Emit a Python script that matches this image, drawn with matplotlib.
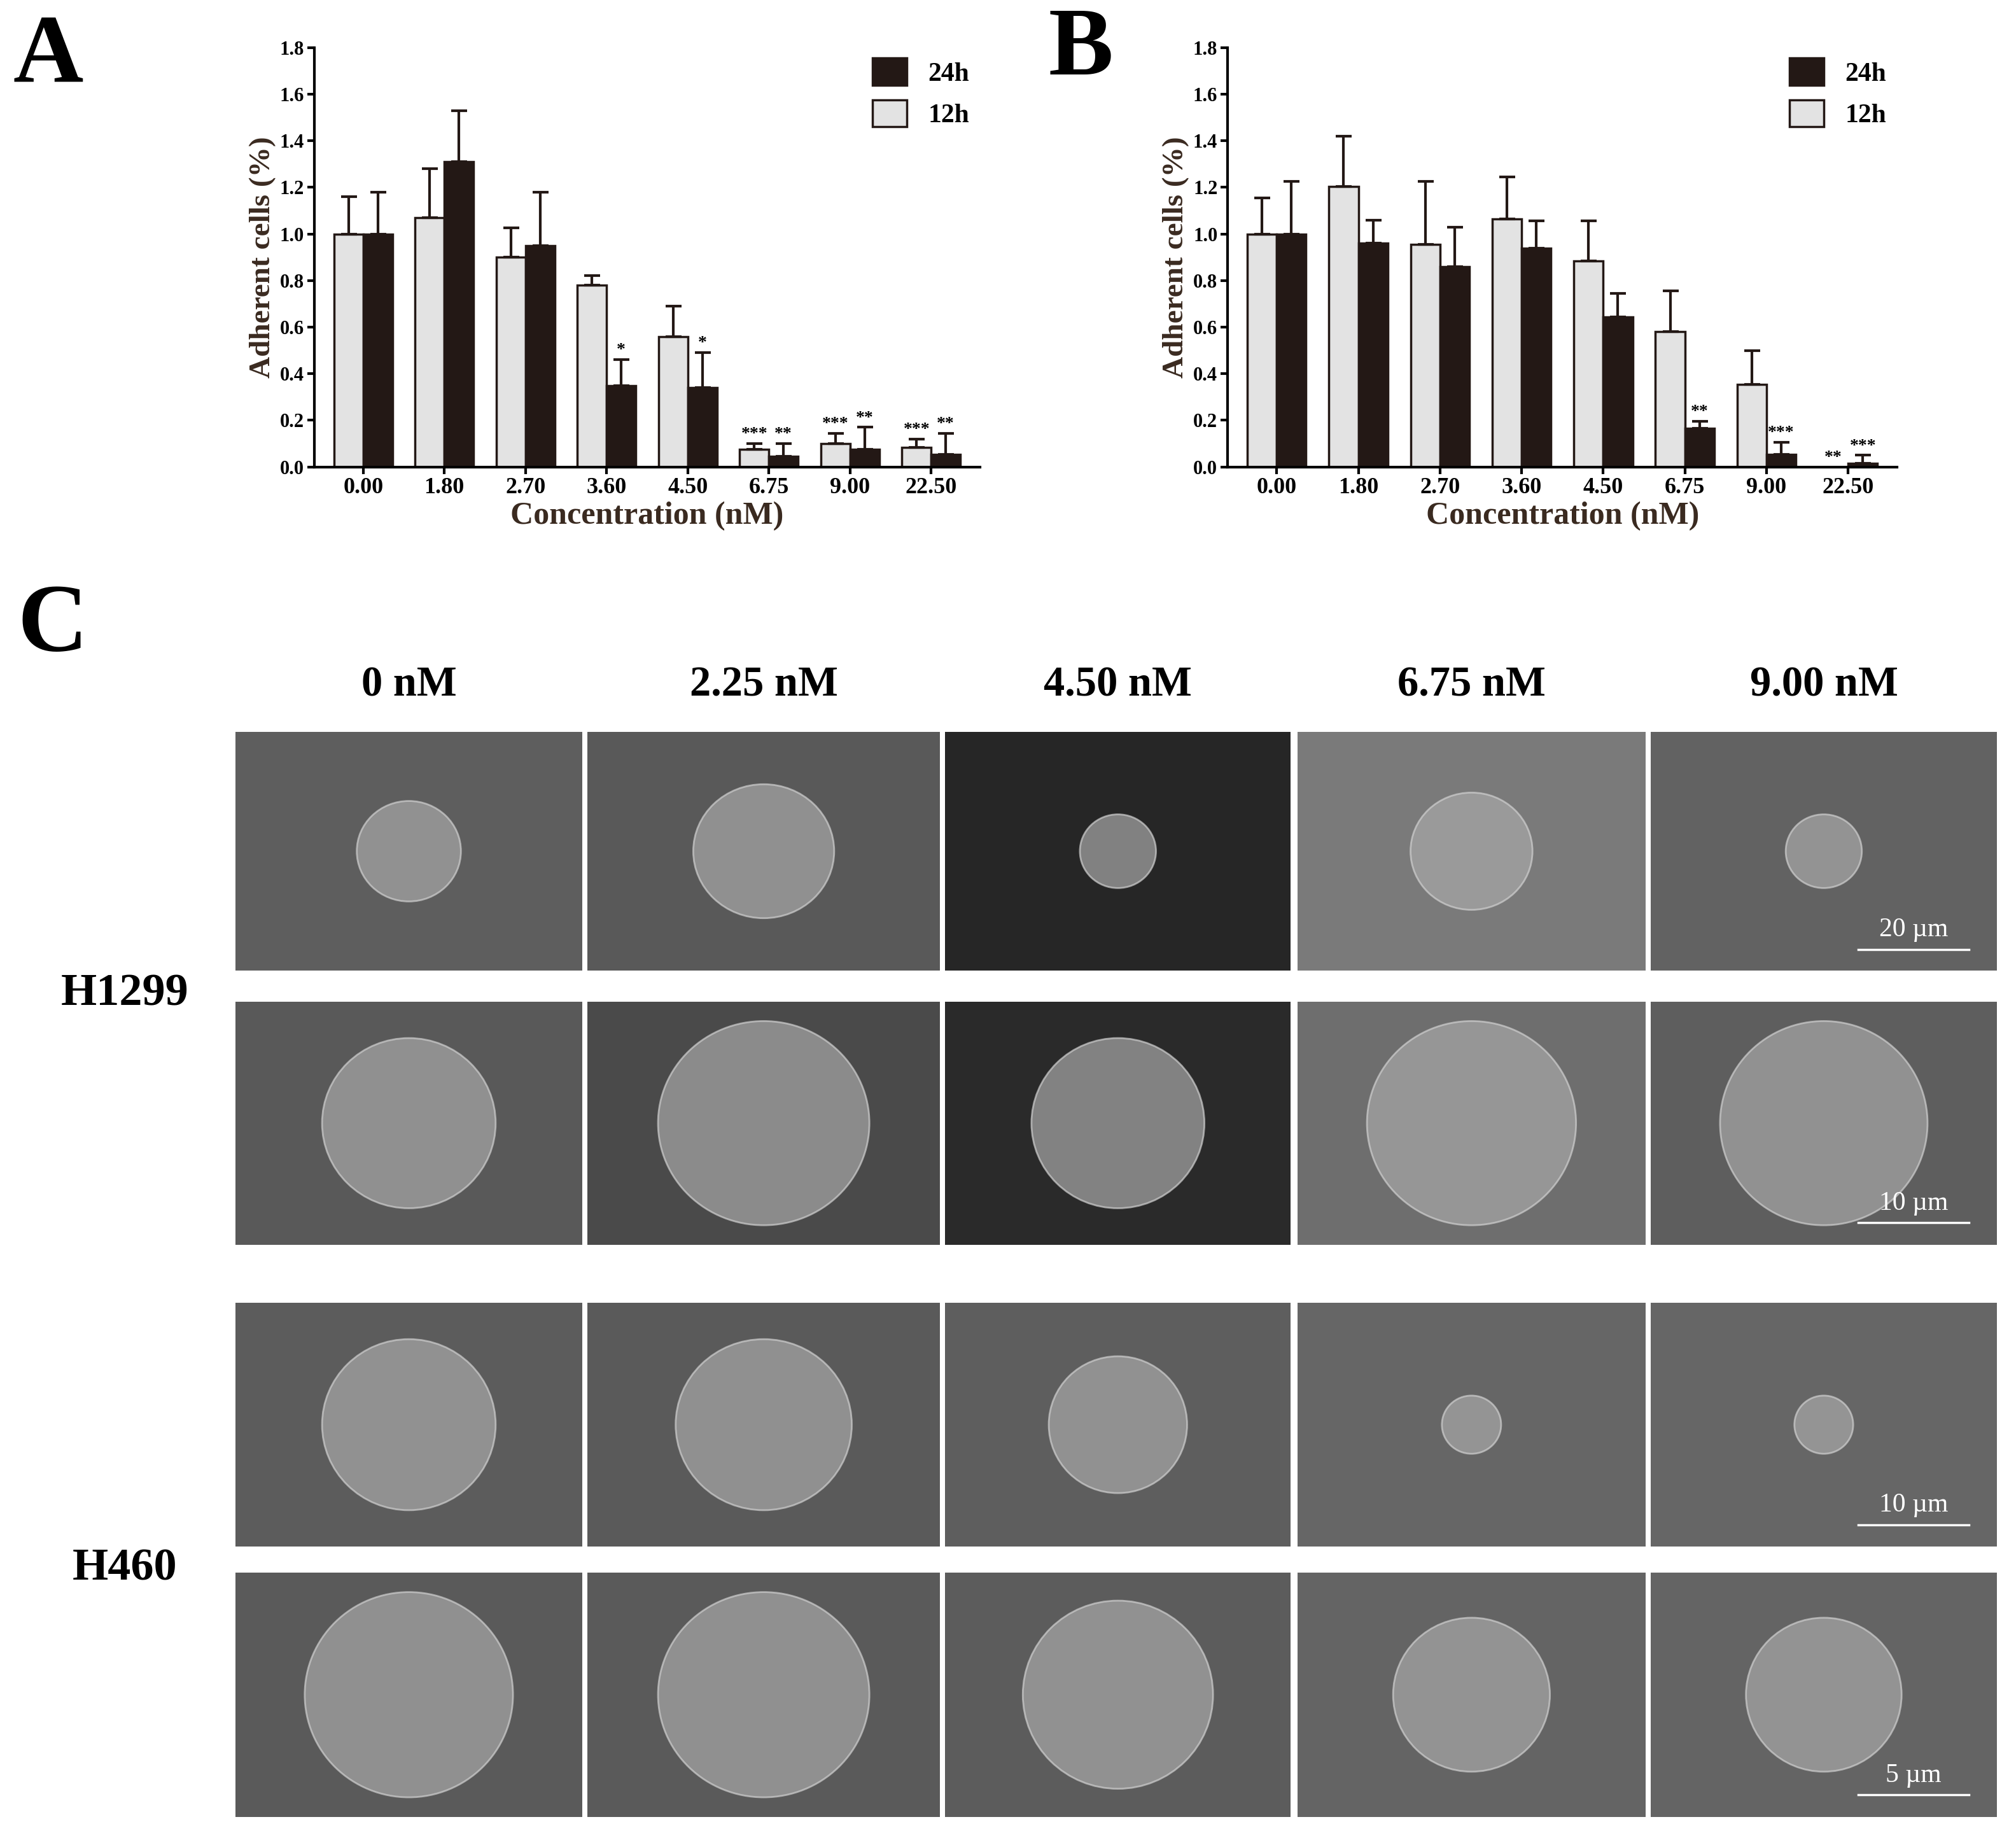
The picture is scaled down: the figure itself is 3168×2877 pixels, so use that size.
import numpy as np
import matplotlib
matplotlib.use('Agg')
from matplotlib import pyplot as plt
from matplotlib.patches import Ellipse

plt.rcParams['font.family'] = ['Liberation Serif', 'DejaVu Serif']
plt.rcParams['font.weight'] = 'bold'
plt.rcParams['axes.labelweight'] = 'bold'

conc = ['0.00', '1.80', '2.70', '3.60', '4.50', '6.75', '9.00', '22.50']

# panel A
a_12h = [1.00, 1.07, 0.90, 0.78, 0.56, 0.075, 0.10, 0.085]
a_12h_top = [1.16, 1.28, 1.025, 0.82, 0.69, 0.10, 0.145, 0.12]
a_24h = [1.00, 1.31, 0.95, 0.35, 0.34, 0.045, 0.075, 0.055]
a_24h_top = [1.18, 1.53, 1.18, 0.46, 0.49, 0.10, 0.17, 0.145]
a_12h_sig = ['', '', '', '', '', '***', '***', '***']
a_24h_sig = ['', '', '', '*', '*', '**', '**', '**']

# panel B
b_12h = [1.00, 1.205, 0.955, 1.065, 0.885, 0.58, 0.355, 0.0]
b_12h_top = [1.155, 1.42, 1.225, 1.245, 1.055, 0.755, 0.50, 0.0]
b_24h = [1.00, 0.96, 0.86, 0.94, 0.645, 0.165, 0.055, 0.015]
b_24h_top = [1.225, 1.06, 1.03, 1.055, 0.745, 0.195, 0.105, 0.05]
b_12h_sig = ['', '', '', '', '', '', '', '**']
b_24h_sig = ['', '', '', '', '', '**', '***', '***']

doses = ['0 nM', '2.25 nM', '4.50 nM', '6.75 nM', '9.00 nM']
lines = ['H1299', 'H460']

light = '#e3e3e3'
dark = '#231815'

fig = plt.figure(figsize=(31.68, 28.77), dpi=100)


def bar_panel(rect, v12, t12, v24, t24, s12, s24):
    ax = fig.add_axes(rect)
    x = np.arange(len(conc))
    w = 0.36
    ax.bar(x - w/2, v12, w, color=light, edgecolor=dark, linewidth=2.5, label='12h')
    ax.bar(x + w/2, v24, w, color=dark, edgecolor=dark, linewidth=2.5, label='24h')
    for xi, v, t in zip(x - w/2, v12, t12):
        if t > v:
            ax.errorbar(xi, v, yerr=[[0], [t - v]], color=dark, capsize=9, capthick=3, elinewidth=3)
    for xi, v, t in zip(x + w/2, v24, t24):
        if t > v:
            ax.errorbar(xi, v, yerr=[[0], [t - v]], color=dark, capsize=9, capthick=3, elinewidth=3)
    for xi, t, s in zip(x - w/2, t12, s12):
        if s:
            ax.text(xi, t + 0.005, s, ha='center', va='bottom', fontsize=20)
    for xi, t, s in zip(x + w/2, t24, s24):
        if s:
            ax.text(xi, t + 0.005, s, ha='center', va='bottom', fontsize=20)
    ax.set_ylim(0, 1.8)
    ax.set_xlim(-0.6, len(conc) - 0.4)
    ax.set_yticks(np.arange(0, 1.81, 0.2))
    ax.set_yticklabels(['%.1f' % v for v in np.arange(0, 1.81, 0.2)], fontsize=22)
    ax.set_xticks(x)
    ax.set_xticklabels(conc, fontsize=26)
    ax.tick_params(width=3, length=8)
    for s in ['top', 'right']:
        ax.spines[s].set_visible(False)
    for s in ['left', 'bottom']:
        ax.spines[s].set_linewidth(3)
    ax.set_ylabel('Adherent cells (%)', fontsize=34, color='#3a2a20')
    ax.set_xlabel('Concentration (nM)', fontsize=36, color='#3a2a20', labelpad=4)
    h, l = ax.get_legend_handles_labels()
    ax.legend(h[::-1], l[::-1], loc='upper right', fontsize=30, frameon=False,
              handlelength=1.3, handleheight=1.2, borderaxespad=0.0)
    return ax


bar_panel([0.156, 0.745, 0.33, 0.229], a_12h, a_12h_top, a_24h, a_24h_top, a_12h_sig, a_24h_sig)
bar_panel([0.609, 0.745, 0.332, 0.229], b_12h, b_12h_top, b_24h, b_24h_top, b_12h_sig, b_24h_sig)

fig.text(0.024, 0.968, 'A', fontsize=110, va='center', ha='center')
fig.text(0.536, 0.972, 'B', fontsize=110, va='center', ha='center')
fig.text(0.026, 0.657, 'C', fontsize=110, va='center', ha='center')

# panel C: micrograph placeholders
cols_x = [(183, 453), (457, 731), (735, 1004), (1009, 1280), (1284, 1553)]
rows_y = [(569, 755), (779, 968), (1013, 1203), (1223, 1413)]
W, H = 1568.0, 1424.0
bg = [['#5e5e5e', '#595959', '#262626', '#7a7a7a', '#626262'],
      ['#595959', '#4a4a4a', '#2a2a2a', '#6e6e6e', '#5e5e5e'],
      ['#5c5c5c', '#5a5a5a', '#5e5e5e', '#666666', '#666666'],
      ['#5a5a5a', '#5a5a5a', '#5c5c5c', '#646464', '#646464']]
cell_size = [[0.3, 0.4, 0.22, 0.35, 0.22],
             [0.5, 0.6, 0.5, 0.6, 0.6],
             [0.5, 0.5, 0.4, 0.17, 0.17],
             [0.6, 0.6, 0.55, 0.45, 0.45]]
scale = ['20 µm', '10 µm', '10 µm', '5 µm']
for r, (y0, y1) in enumerate(rows_y):
    for c, (x0, x1) in enumerate(cols_x):
        ax = fig.add_axes([x0 / W, 1 - y1 / H, (x1 - x0) / W, (y1 - y0) / H])
        ax.set_facecolor(bg[r][c])
        ax.set_xlim(0, 1)
        ax.set_ylim(0, 1)
        s = cell_size[r][c]
        ax.add_patch(Ellipse((0.5, 0.5), s, s * 1.4, facecolor='#a8a8a8', edgecolor='#d0d0d0',
                             linewidth=2, alpha=0.7))
        ax.set_xticks([])
        ax.set_yticks([])
        for sp in ax.spines.values():
            sp.set_visible(False)
        if c == 4:
            ax.plot([0.6, 0.92], [0.09, 0.09], color='white', lw=2.5)
            ax.text(0.76, 0.12, scale[r], color='white', ha='center', va='bottom',
                    fontsize=30, fontweight='normal')

for c, (x0, x1) in enumerate(cols_x):
    fig.text((x0 + x1) / 2 / W, 1 - 533 / H, doses[c], fontsize=48, ha='center', va='center')
fig.text(97 / W, 1 - 773 / H, lines[0], fontsize=52, ha='center', va='center')
fig.text(97 / W, 1 - 1220 / H, lines[1], fontsize=52, ha='center', va='center')

fig.savefig('out.png', dpi=100)
